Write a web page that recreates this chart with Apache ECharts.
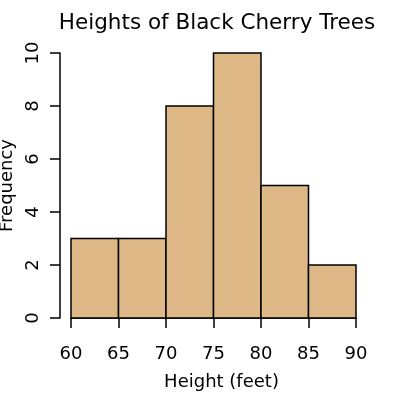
<!DOCTYPE html>
<html><head><meta charset="utf-8">
<script src="https://cdn.jsdelivr.net/npm/echarts@6/dist/echarts.min.js"></script>
<style>html,body{margin:0;padding:0;background:#fff}#c{width:400px;height:396px}</style>
</head><body><div id="c"></div>
<script>
const binStarts = [60, 65, 70, 75, 80, 85];
const binEnds = [65, 70, 75, 80, 85, 90];
const counts = [3, 3, 8, 10, 5, 2];
const xTicks = [60, 65, 70, 75, 80, 85, 90];
const yTicks = [0, 2, 4, 6, 8, 10];

const data = binStarts.map((s, i) => [s, binEnds[i], counts[i]]);
const font = 'DejaVu Sans';
const chart = echarts.init(document.getElementById('c'), null, {renderer: 'canvas'});
chart.setOption({
  animation: false,
  backgroundColor: '#fff',
  title: {
    text: 'Heights of Black Cherry Trees',
    left: 212, top: 7, textAlign: 'center',
    textStyle: {fontFamily: font, fontSize: 21.5, fontWeight: 'normal', color: '#000'}
  },
  grid: {left: 71, right: 44, top: 53, bottom: 78, outerBoundsMode: 'none', containLabel: false},
  xAxis: {
    type: 'value', min: 60, max: 90, interval: 5, offset: 10,
    name: 'Height (feet)', nameLocation: 'middle', nameGap: 45,
    nameTextStyle: {fontFamily: font, fontSize: 18, color: '#000', padding: [0, 0, 0, 16]},
    axisLine: {show: true, lineStyle: {color: '#000', width: 1.5}},
    axisTick: {show: true, length: 10, lineStyle: {color: '#000', width: 1.5}},
    axisLabel: {fontFamily: font, fontSize: 18, color: '#000', margin: 17},
    splitLine: {show: false}
  },
  yAxis: {
    type: 'value', min: 0, max: 10, interval: 2, offset: 11,
    name: 'Frequency', nameLocation: 'middle', nameGap: 40,
    nameTextStyle: {fontFamily: font, fontSize: 18, color: '#000'},
    axisLine: {show: true, lineStyle: {color: '#000', width: 1.5}},
    axisTick: {show: true, length: 10, lineStyle: {color: '#000', width: 1.5}},
    axisLabel: {fontFamily: font, fontSize: 18, color: '#000', rotate: 90, margin: 18},
    splitLine: {show: false}
  },
  series: [{
    type: 'custom',
    data: data,
    renderItem: function (params, api) {
      const p0 = api.coord([api.value(0), 0]);
      const p1 = api.coord([api.value(1), api.value(2)]);
      return {
        type: 'rect',
        shape: {x: p0[0], y: p1[1], width: p1[0] - p0[0], height: p0[1] - p1[1]},
        style: {fill: '#DEB887', stroke: '#000', lineWidth: 1.5}
      };
    }
  }]
});
</script></body></html>
